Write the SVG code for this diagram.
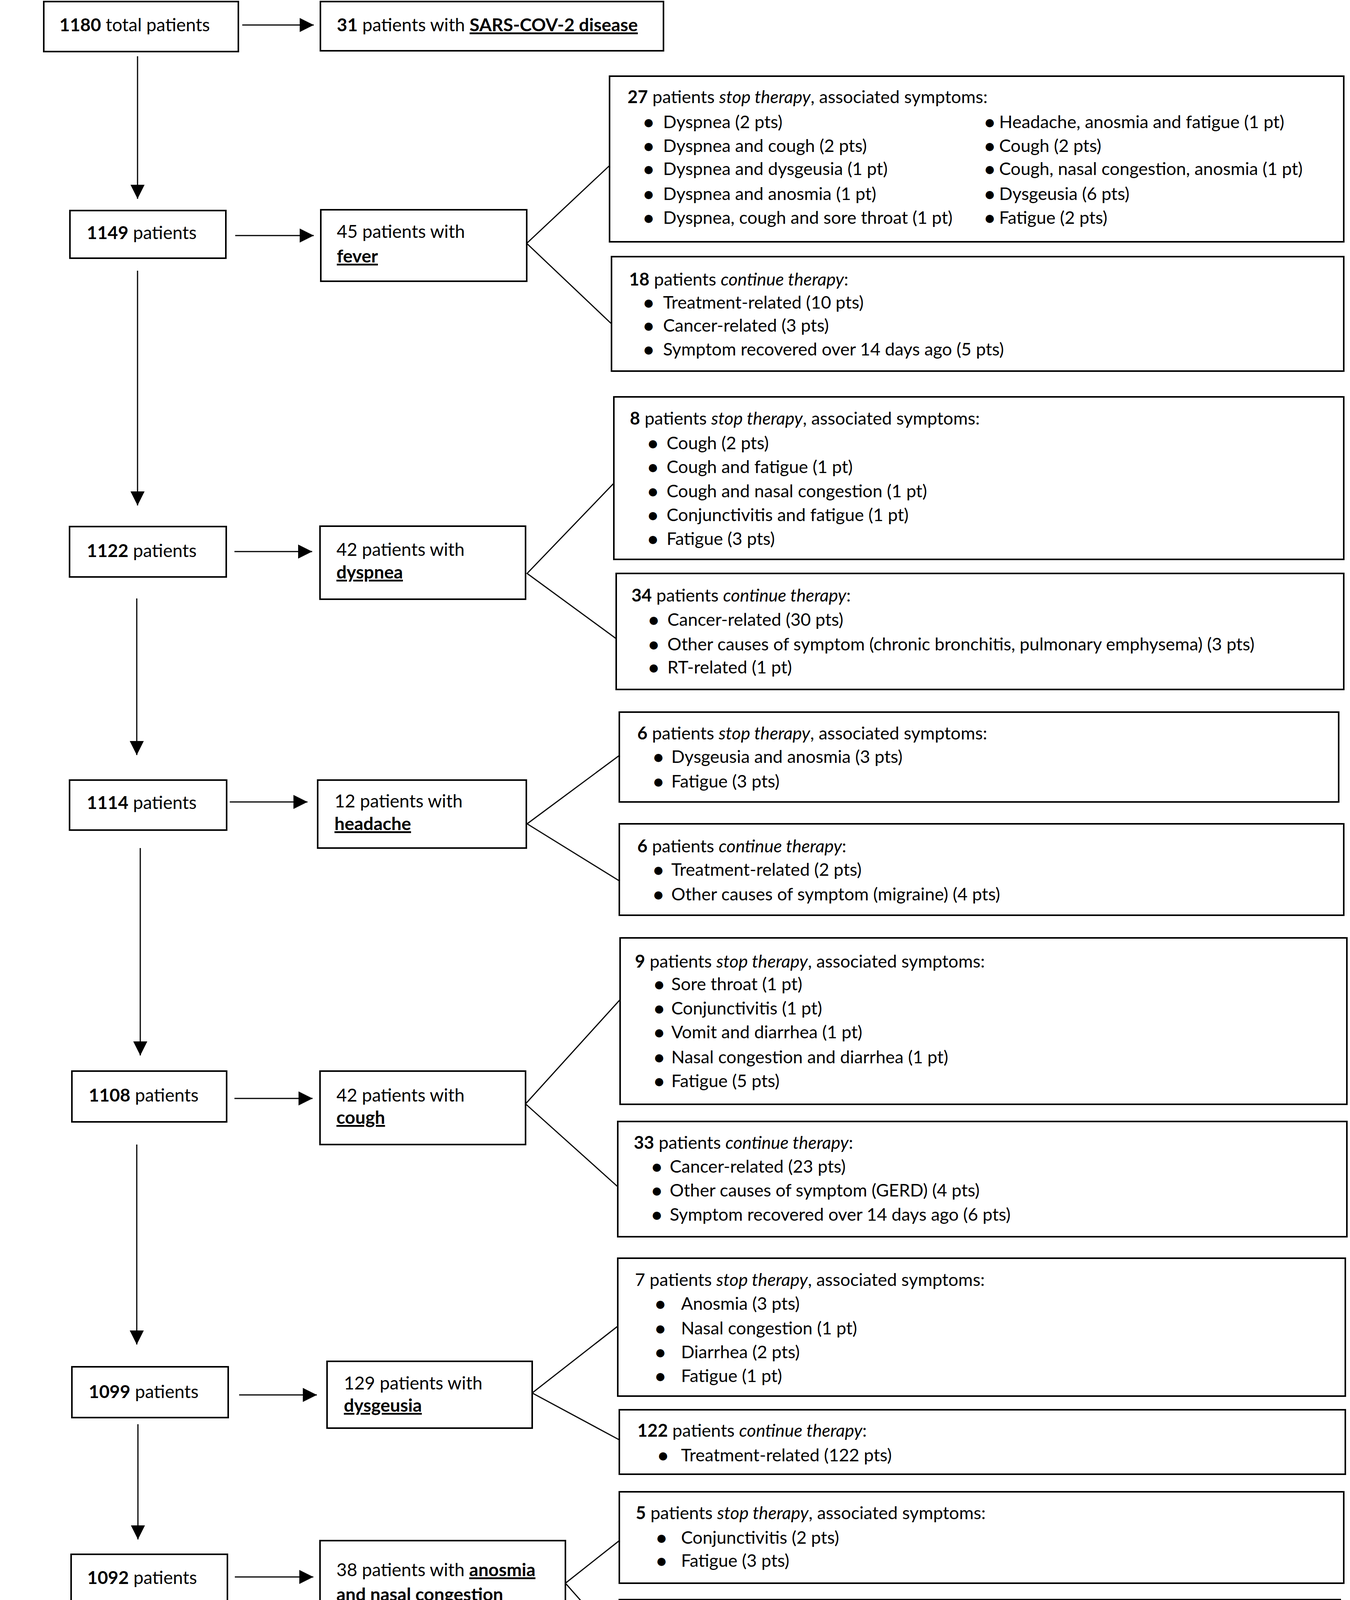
<svg xmlns="http://www.w3.org/2000/svg" width="3455" height="5379" viewBox="0 0 3455 5379">
<style>
.bg{fill:#fff}
.box{fill:#fff;stroke:#000;stroke-width:4}
.ln{stroke:#000;stroke-width:3;fill:none}
.t{font-family:Lato,"Open Sans","Liberation Sans",sans-serif;font-size:46px;fill:#000}
.r .t{font-size:45px}
.r .m{font-size:48px;font-weight:700}
.m{text-anchor:middle}
.b{font-weight:700}
.i{font-style:italic}
.u{text-decoration:underline;text-decoration-thickness:5px;text-underline-offset:7px}
</style>
<defs>
<marker id="ah" markerUnits="userSpaceOnUse" markerWidth="38" markerHeight="38" refX="36" refY="18" orient="auto">
<path d="M0,0 L36,18 L0,36 Z" fill="#000"/>
</marker>
</defs>
<rect class="bg" x="0" y="0" width="3455" height="5379"/>

<g id="connectors">
<line class="ln" x1="620" y1="64" x2="803" y2="64" marker-end="url(#ah)"/>
<line class="ln" x1="602" y1="603" x2="803" y2="603" marker-end="url(#ah)"/>
<line class="ln" x1="600" y1="1412" x2="799" y2="1412" marker-end="url(#ah)"/>
<line class="ln" x1="588" y1="2053" x2="787" y2="2053" marker-end="url(#ah)"/>
<line class="ln" x1="600" y1="2812" x2="800" y2="2812" marker-end="url(#ah)"/>
<line class="ln" x1="612" y1="3571" x2="811" y2="3571" marker-end="url(#ah)"/>
<line class="ln" x1="601" y1="4037" x2="802" y2="4037" marker-end="url(#ah)"/>
<line class="ln" x1="612" y1="4505" x2="811" y2="4505" marker-end="url(#ah)"/>
<line class="ln" x1="612" y1="4917" x2="811" y2="4917" marker-end="url(#ah)"/>

<line class="ln" x1="352" y1="144" x2="352" y2="509" marker-end="url(#ah)"/>
<line class="ln" x1="352" y1="693" x2="352" y2="1294" marker-end="url(#ah)"/>
<line class="ln" x1="350" y1="1532" x2="350" y2="1933" marker-end="url(#ah)"/>
<line class="ln" x1="359" y1="2171" x2="359" y2="2702" marker-end="url(#ah)"/>
<line class="ln" x1="350" y1="2930" x2="350" y2="3442" marker-end="url(#ah)"/>
<line class="ln" x1="353" y1="3646" x2="353" y2="3941" marker-end="url(#ah)"/>
<line class="ln" x1="355" y1="4127" x2="355" y2="4400" marker-end="url(#ah)"/>
<line class="ln" x1="353" y1="4561" x2="353" y2="4816" marker-end="url(#ah)"/>
<line class="ln" x1="350" y1="5004" x2="350" y2="5169" marker-end="url(#ah)"/>

<polyline class="ln" points="1562,422 1348,623 1565,829"/>
<polyline class="ln" points="1571,1237 1349,1468 1577,1635"/>
<polyline class="ln" points="1585,1934 1349,2109 1585,2255"/>
<polyline class="ln" points="1587,2559 1345,2826 1581,3038"/>
<polyline class="ln" points="1581,3395 1362,3566 1585,3686"/>
<polyline class="ln" points="1585,3944 1447,4053 1585,4209"/>
<line class="ln" x1="1359" y1="4505" x2="1577" y2="4505"/>
<polyline class="ln" points="1577,4794 1347,4949 1577,5069"/>
</g>

<g id="n1180">
<rect class="box" x="112" y="4" width="498" height="128"/>
<text class="t" x="152" y="80"><tspan class="b">1180</tspan> total patients</text>
</g>
<g id="nsars">
<rect class="box" x="820" y="4" width="878" height="126"/>
<text class="t" x="862" y="80"><tspan class="b">31</tspan> patients with <tspan class="b u">SARS-COV-2 disease</tspan></text>
</g>

<g id="n1149">
<rect class="box" x="179" y="539" width="399" height="122"/>
<text class="t" x="222" y="612"><tspan class="b">1149</tspan> patients</text>
</g>
<g id="nfever">
<rect class="box" x="821" y="537" width="527" height="183"/>
<text class="t" x="862" y="609">45 patients with</text>
<text class="t b u" x="862" y="672">fever</text>
</g>
<g id="fever-stop" class="r">
<rect class="box" x="1560" y="195" width="1879" height="424"/>
<text class="t" x="1606" y="264"><tspan class="b">27</tspan> patients <tspan class="i">stop therapy</tspan>, associated symptoms:</text>
<text class="t m" x="1660" y="330">•</text><text class="t" x="1697" y="328">Dyspnea (2 pts)</text>
<text class="t m" x="1660" y="391">•</text><text class="t" x="1697" y="389">Dyspnea and cough (2 pts)</text>
<text class="t m" x="1660" y="450">•</text><text class="t" x="1697" y="448">Dyspnea and dysgeusia (1 pt)</text>
<text class="t m" x="1660" y="514">•</text><text class="t" x="1697" y="512">Dyspnea and anosmia (1 pt)</text>
<text class="t m" x="1660" y="575">•</text><text class="t" x="1697" y="573">Dyspnea, cough and sore throat (1 pt)</text>
<text class="t m" x="2533" y="330">•</text><text class="t" x="2557" y="328">Headache, anosmia and fatigue (1 pt)</text>
<text class="t m" x="2533" y="391">•</text><text class="t" x="2557" y="389">Cough (2 pts)</text>
<text class="t m" x="2533" y="450">•</text><text class="t" x="2557" y="448">Cough, nasal congestion, anosmia (1 pt)</text>
<text class="t m" x="2533" y="514">•</text><text class="t" x="2557" y="512">Dysgeusia (6 pts)</text>
<text class="t m" x="2533" y="575">•</text><text class="t" x="2557" y="573">Fatigue (2 pts)</text>
</g>
<g id="fever-cont" class="r">
<rect class="box" x="1565" y="657" width="1874" height="293"/>
<text class="t" x="1610" y="731"><tspan class="b">18</tspan> patients <tspan class="i">continue therapy</tspan>:</text>
<text class="t m" x="1660" y="792">•</text><text class="t" x="1697" y="790">Treatment-related (10 pts)</text>
<text class="t m" x="1660" y="851">•</text><text class="t" x="1697" y="849">Cancer-related (3 pts)</text>
<text class="t m" x="1660" y="912">•</text><text class="t" x="1697" y="910">Symptom recovered over 14 days ago (5 pts)</text>
</g>

<g id="n1122">
<rect class="box" x="178" y="1348" width="401" height="129"/>
<text class="t" x="222" y="1426"><tspan class="b">1122</tspan> patients</text>
</g>
<g id="ndyspnea">
<rect class="box" x="819" y="1347" width="526" height="187"/>
<text class="t" x="861" y="1423">42 patients with</text>
<text class="t b u" x="861" y="1481">dyspnea</text>
</g>
<g id="dyspnea-stop" class="r">
<rect class="box" x="1571" y="1016" width="1868" height="416"/>
<text class="t" x="1612" y="1087"><tspan class="b">8</tspan> patients <tspan class="i">stop therapy</tspan>, associated symptoms:</text>
<text class="t m" x="1671" y="1152">•</text><text class="t" x="1706" y="1150">Cough (2 pts)</text>
<text class="t m" x="1671" y="1213">•</text><text class="t" x="1706" y="1211">Cough and fatigue (1 pt)</text>
<text class="t m" x="1671" y="1275">•</text><text class="t" x="1706" y="1273">Cough and nasal congestion (1 pt)</text>
<text class="t m" x="1671" y="1336">•</text><text class="t" x="1706" y="1334">Conjunctivitis and fatigue (1 pt)</text>
<text class="t m" x="1671" y="1397">•</text><text class="t" x="1706" y="1395">Fatigue (3 pts)</text>
</g>
<g id="dyspnea-cont" class="r">
<rect class="box" x="1577" y="1468" width="1862" height="297"/>
<text class="t" x="1616" y="1540"><tspan class="b">34</tspan> patients <tspan class="i">continue therapy</tspan>:</text>
<text class="t m" x="1673" y="1604">•</text><text class="t" x="1708" y="1602">Cancer-related (30 pts)</text>
<text class="t m" x="1673" y="1667">•</text><text class="t" x="1708" y="1665">Other causes of symptom (chronic bronchitis, pulmonary emphysema) (3 pts)</text>
<text class="t m" x="1673" y="1726">•</text><text class="t" x="1708" y="1724">RT-related (1 pt)</text>
</g>

<g id="n1114">
<rect class="box" x="178" y="1997" width="402" height="128"/>
<text class="t" x="222" y="2071"><tspan class="b">1114</tspan> patients</text>
</g>
<g id="nheadache">
<rect class="box" x="813" y="1997" width="534" height="174"/>
<text class="t" x="856" y="2067">12 patients with</text>
<text class="t b u" x="856" y="2125">headache</text>
</g>
<g id="headache-stop" class="r">
<rect class="box" x="1585" y="1823" width="1841" height="230"/>
<text class="t" x="1631" y="1893"><tspan class="b">6</tspan> patients <tspan class="i">stop therapy</tspan>, associated symptoms:</text>
<text class="t m" x="1685" y="1955">•</text><text class="t" x="1718" y="1953">Dysgeusia and anosmia (3 pts)</text>
<text class="t m" x="1685" y="2018">•</text><text class="t" x="1718" y="2016">Fatigue (3 pts)</text>
</g>
<g id="headache-cont" class="r">
<rect class="box" x="1585" y="2109" width="1854" height="234"/>
<text class="t" x="1631" y="2182"><tspan class="b">6</tspan> patients <tspan class="i">continue therapy</tspan>:</text>
<text class="t m" x="1685" y="2244">•</text><text class="t" x="1718" y="2242">Treatment-related (2 pts)</text>
<text class="t m" x="1685" y="2307">•</text><text class="t" x="1718" y="2305">Other causes of symptom (migraine) (4 pts)</text>
</g>

<g id="n1108">
<rect class="box" x="184" y="2742" width="396" height="130"/>
<text class="t" x="227" y="2820"><tspan class="b">1108</tspan> patients</text>
</g>
<g id="ncough">
<rect class="box" x="819" y="2742" width="526" height="188"/>
<text class="t" x="861" y="2820">42 patients with</text>
<text class="t b u" x="861" y="2877">cough</text>
</g>
<g id="cough-stop" class="r">
<rect class="box" x="1587" y="2401" width="1860" height="426"/>
<text class="t" x="1625" y="2477"><tspan class="b">9</tspan> patients <tspan class="i">stop therapy</tspan>, associated symptoms:</text>
<text class="t m" x="1687" y="2537">•</text><text class="t" x="1718" y="2535">Sore throat (1 pt)</text>
<text class="t m" x="1687" y="2599">•</text><text class="t" x="1718" y="2597">Conjunctivitis (1 pt)</text>
<text class="t m" x="1687" y="2660">•</text><text class="t" x="1718" y="2658">Vomit and diarrhea (1 pt)</text>
<text class="t m" x="1687" y="2724">•</text><text class="t" x="1718" y="2722">Nasal congestion and diarrhea (1 pt)</text>
<text class="t m" x="1687" y="2785">•</text><text class="t" x="1718" y="2783">Fatigue (5 pts)</text>
</g>
<g id="cough-cont" class="r">
<rect class="box" x="1581" y="2871" width="1866" height="295"/>
<text class="t" x="1622" y="2941"><tspan class="b">33</tspan> patients <tspan class="i">continue therapy</tspan>:</text>
<text class="t m" x="1681" y="3004">•</text><text class="t" x="1714" y="3002">Cancer-related (23 pts)</text>
<text class="t m" x="1681" y="3065">•</text><text class="t" x="1714" y="3063">Other causes of symptom (GERD) (4 pts)</text>
<text class="t m" x="1681" y="3127">•</text><text class="t" x="1714" y="3125">Symptom recovered over 14 days ago (6 pts)</text>
</g>

<g id="n1099">
<rect class="box" x="184" y="3499" width="400" height="130"/>
<text class="t" x="227" y="3579"><tspan class="b">1099</tspan> patients</text>
</g>
<g id="ndysgeusia">
<rect class="box" x="837" y="3485" width="525" height="171"/>
<text class="t" x="880" y="3557">129 patients with</text>
<text class="t b u" x="880" y="3614">dysgeusia</text>
</g>
<g id="dysgeusia-stop" class="r">
<rect class="box" x="1581" y="3221" width="1862" height="353"/>
<text class="t" x="1625" y="3292">7 patients <tspan class="i">stop therapy</tspan>, associated symptoms:</text>
<text class="t m" x="1690" y="3355">•</text><text class="t" x="1743" y="3353">Anosmia (3 pts)</text>
<text class="t m" x="1690" y="3418">•</text><text class="t" x="1743" y="3416">Nasal congestion (1 pt)</text>
<text class="t m" x="1690" y="3479">•</text><text class="t" x="1743" y="3477">Diarrhea (2 pts)</text>
<text class="t m" x="1690" y="3540">•</text><text class="t" x="1743" y="3538">Fatigue (1 pt)</text>
</g>
<g id="dysgeusia-cont" class="r">
<rect class="box" x="1585" y="3609" width="1858" height="165"/>
<text class="t" x="1631" y="3678"><tspan class="b">122</tspan> patients <tspan class="i">continue therapy</tspan>:</text>
<text class="t m" x="1697" y="3743">•</text><text class="t" x="1743" y="3741">Treatment-related (122 pts)</text>
</g>

<g id="n1092">
<rect class="box" x="182" y="3979" width="400" height="129"/>
<text class="t" x="223" y="4055"><tspan class="b">1092</tspan> patients</text>
</g>
<g id="nanosmia">
<rect class="box" x="819" y="3944" width="628" height="225"/>
<text class="t" x="861" y="4035">38 patients with <tspan class="b u">anosmia</tspan></text>
<text class="t b u" x="861" y="4098">and nasal congestion</text>
</g>
<g id="anosmia-stop" class="r">
<rect class="box" x="1585" y="3819" width="1854" height="234"/>
<text class="t" x="1627" y="3889"><tspan class="b">5</tspan> patients <tspan class="i">stop therapy</tspan>, associated symptoms:</text>
<text class="t m" x="1693" y="3954">•</text><text class="t" x="1743" y="3952">Conjunctivitis (2 pts)</text>
<text class="t m" x="1693" y="4013">•</text><text class="t" x="1743" y="4011">Fatigue (3 pts)</text>
</g>
<g id="anosmia-cont" class="r">
<rect class="box" x="1585" y="4095" width="1845" height="229"/>
<text class="t" x="1627" y="4164"><tspan class="b">33</tspan> patients <tspan class="i">continue therapy</tspan>:</text>
<text class="t m" x="1693" y="4229">•</text><text class="t" x="1743" y="4227">Treatment-related (9 pts)</text>
<text class="t m" x="1693" y="4289">•</text><text class="t" x="1743" y="4287">Other causes of symptom (allergic rhinitis) (24 pts)</text>
</g>

<g id="n1087">
<rect class="box" x="185" y="4430" width="412" height="131"/>
<text class="t" x="227" y="4506"><tspan class="b">1087</tspan> patients</text>
</g>
<g id="nsore">
<rect class="box" x="833" y="4429" width="526" height="190"/>
<text class="t" x="876" y="4503">3 patients with <tspan class="b u">sore</tspan></text>
<text class="t b u" x="876" y="4566">throat</text>
</g>
<g id="sore-stop" class="r">
<rect class="box" x="1577" y="4388" width="1850" height="243"/>
<text class="t" x="1618" y="4464"><tspan class="b">3</tspan> patients <tspan class="i">stop therapy</tspan>, associated symptoms:</text>
<text class="t m" x="1687" y="4529">•</text><text class="t" x="1737" y="4527">Fatigue and conjunctivitis (1 pt)</text>
<text class="t m" x="1687" y="4590">•</text><text class="t" x="1737" y="4588">Conjunctivitis (2 pt)</text>
</g>

<g id="n1084">
<rect class="box" x="178" y="4852" width="408" height="131"/>
<text class="t" x="222" y="4930"><tspan class="b">1084</tspan> patients</text>
</g>
<g id="ndiarrhea">
<rect class="box" x="820" y="4852" width="527" height="176"/>
<text class="t" x="861" y="4921">38 patients with</text>
<text class="t b u" x="861" y="4984">diarrhea</text>
</g>
<g id="diarrhea-stop" class="r">
<rect class="box" x="1577" y="4678" width="1850" height="231"/>
<text class="t" x="1618" y="4750"><tspan class="b">4</tspan> patients <tspan class="i">stop therapy</tspan>, associated symptoms:</text>
<text class="t m" x="1687" y="4813">•</text><text class="t" x="1737" y="4811">Vomit (2 pts)</text>
<text class="t m" x="1687" y="4872">•</text><text class="t" x="1737" y="4870">Fatigue (2 pts)</text>
</g>
<g id="diarrhea-cont" class="r">
<rect class="box" x="1577" y="4966" width="1850" height="169"/>
<text class="t" x="1618" y="5036"><tspan class="b">34</tspan> patients <tspan class="i">continue therapy</tspan>:</text>
<text class="t m" x="1687" y="5099">•</text><text class="t" x="1737" y="5097">Treatment-related (34 pts)</text>
</g>

<g id="n1080">
<rect class="box" x="4" y="5202" width="830" height="173"/>
<text class="t m" x="414" y="5272"><tspan class="b">1080</tspan> patients continue</text>
<text class="t m" x="414" y="5335">systemic therapy as scheduled</text>
</g>
</svg>
